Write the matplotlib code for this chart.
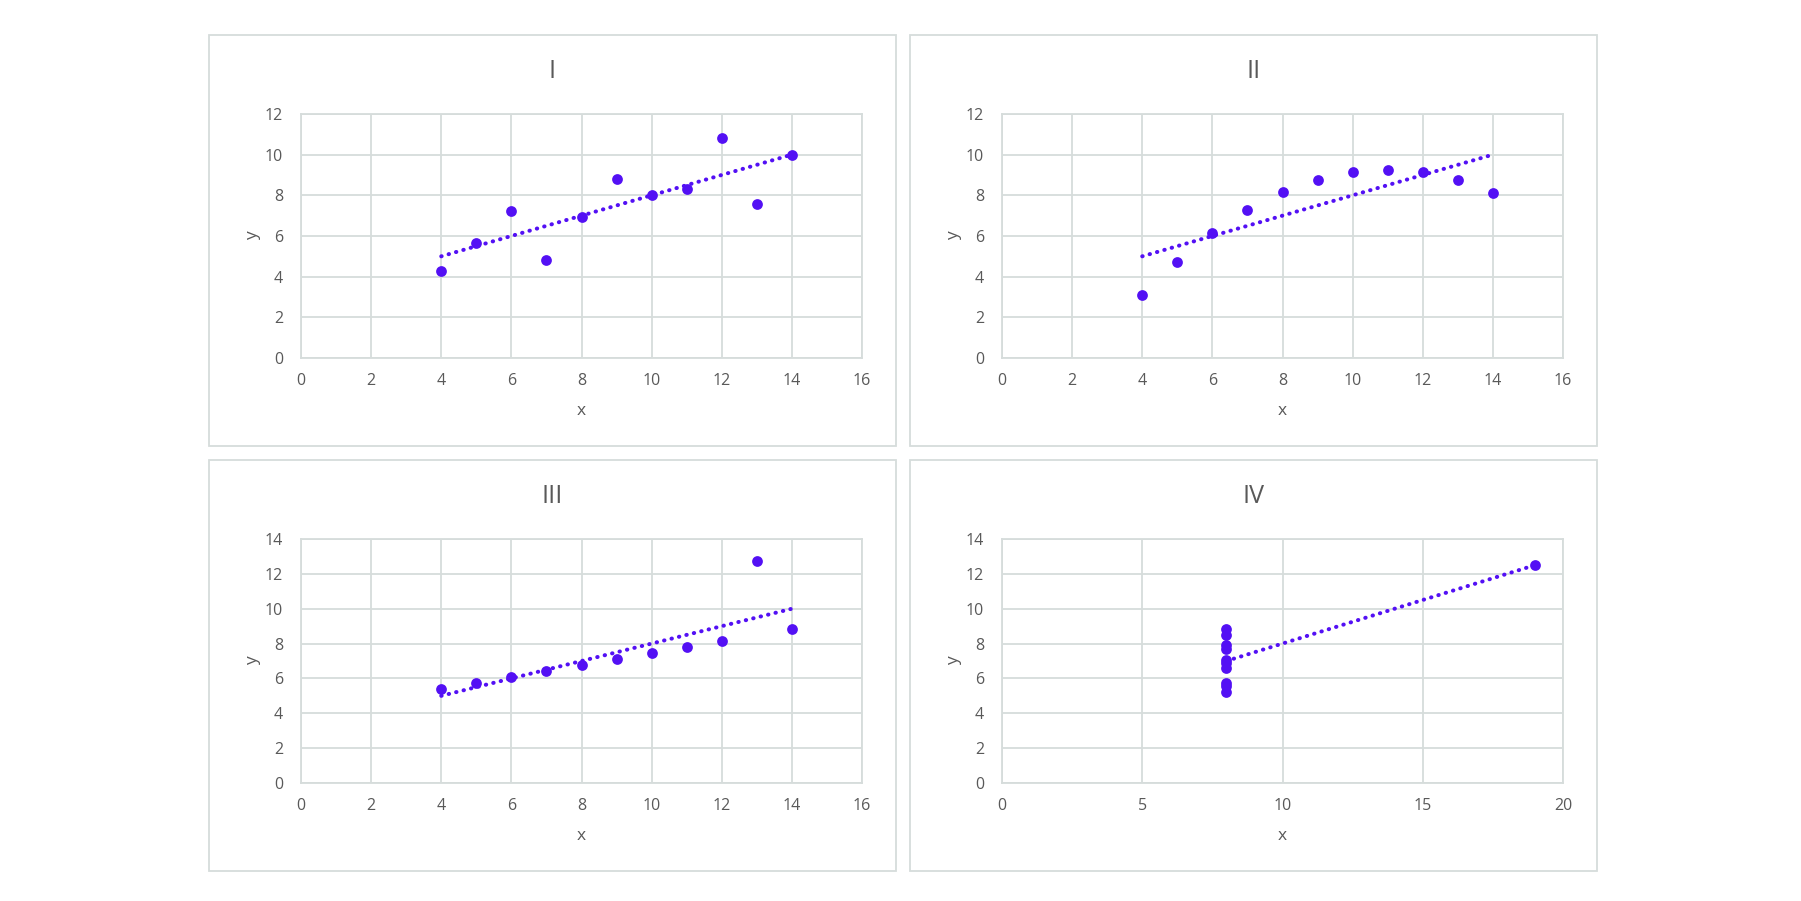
import numpy as np
import matplotlib
matplotlib.use('Agg')
import matplotlib.pyplot as plt
from matplotlib.patches import Rectangle

plt.rcParams['font.family'] = ['Open Sans', 'DejaVu Sans']

x123 = [10, 8, 13, 9, 11, 14, 6, 4, 12, 7, 5]
y1 = [8.04, 6.95, 7.58, 8.81, 8.33, 9.96, 7.24, 4.26, 10.84, 4.82, 5.68]
y2 = [9.14, 8.14, 8.74, 8.77, 9.26, 8.10, 6.13, 3.10, 9.13, 7.26, 4.74]
y3 = [7.46, 6.77, 12.74, 7.11, 7.81, 8.84, 6.08, 5.39, 8.15, 6.42, 5.73]
x4 = [8, 8, 8, 8, 8, 8, 8, 19, 8, 8, 8]
y4 = [6.58, 5.76, 7.71, 8.84, 8.47, 7.04, 5.25, 12.50, 5.56, 7.91, 6.89]

titles = ['I', 'II', 'III', 'IV']
xs = [x123, x123, x123, x4]
ys = [y1, y2, y3, y4]
xlims = [(0, 16, 2), (0, 16, 2), (0, 16, 2), (0, 20, 5)]
ylims = [(0, 12, 2), (0, 12, 2), (0, 14, 2), (0, 14, 2)]

purple = '#5310F4'
grid_c = '#D6DCDB'
text_c = '#595959'

W, H = 1801, 901
fig = plt.figure(figsize=(W / 100, H / 100), dpi=100)

# panel boxes (left, top) in pixels, each 687 x 411
boxes = [(209, 35), (910, 35), (209, 460), (910, 460)]
bw, bh = 687, 411

for i in range(4):
    bx, by = boxes[i]
    fig.patches.append(Rectangle((bx / W, 1 - (by + bh) / H), bw / W, bh / H,
                                 transform=fig.transFigure, fill=False,
                                 edgecolor=grid_c, linewidth=1.3))
    l, t = bx + 92, by + 79
    r, b = bx + 653, by + 323
    ax = fig.add_axes([l / W, 1 - b / H, (r - l) / W, (b - t) / H])
    x = np.array(xs[i], dtype=float)
    y = np.array(ys[i])
    ax.scatter(x, y, s=60, color=purple, zorder=3, linewidths=0)
    m, c = np.polyfit(x, y, 1)
    xx = np.array([x.min(), x.max()])
    ax.plot(xx, m * xx + c, color=purple, linestyle=(0, (0.1, 1.8)),
            linewidth=2.9, dash_capstyle='round', zorder=2)
    x0, x1, xs_ = xlims[i]
    y0, y1_, ys_ = ylims[i]
    ax.set_xlim(x0, x1)
    ax.set_ylim(y0, y1_)
    ax.set_xticks(np.arange(x0, x1 + 1, xs_))
    ax.set_yticks(np.arange(y0, y1_ + 1, ys_))
    ax.grid(True, color=grid_c, linewidth=1.3)
    ax.set_axisbelow(True)
    for s in ax.spines.values():
        s.set_color(grid_c)
        s.set_linewidth(1.3)
    ax.tick_params(axis='x', length=0, labelsize=11.5, colors=text_c, pad=10.5)
    ax.tick_params(axis='y', length=0, labelsize=11.5, colors=text_c, pad=13)
    # axis labels and title
    fig.text((l + r) / 2 / W, 1 - (by + 380) / H, 'x', ha='center',
             va='baseline', fontsize=12.5, color=text_c)
    fig.text((bx + 44) / W, 1 - (t + b) / 2 / H, 'y', ha='center',
             va='center', rotation=90, fontsize=12.5, color=text_c)
    fig.text((bx + bw / 2) / W, 1 - (by + 43) / H, titles[i], ha='center',
             va='baseline', fontsize=18, color=text_c)

fig.savefig('out.png', dpi=100)
